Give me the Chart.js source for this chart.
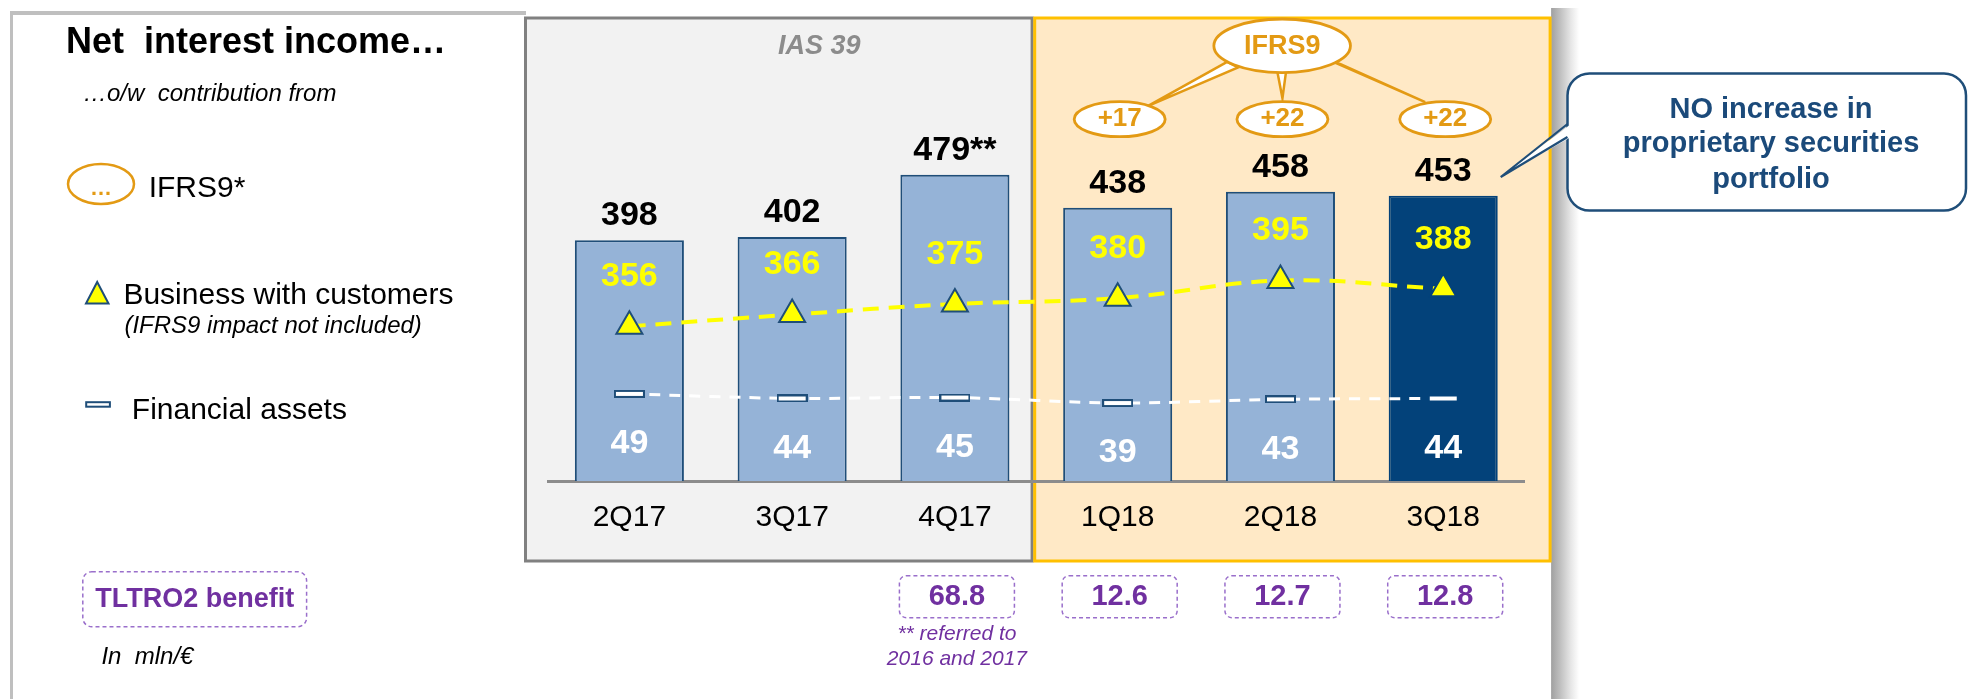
<!DOCTYPE html>
<html><head><meta charset="utf-8">
<script src="https://cdn.jsdelivr.net/npm/chart.js@4.4.1/dist/chart.umd.min.js"></script>
<style>html,body{margin:0;padding:0;background:#fff;overflow:hidden}canvas{display:block}</style>
</head><body>
<canvas id="c" width="1970" height="699"></canvas>
<script>
// ---- data ----
const categories = ['2Q17', '3Q17', '4Q17', '1Q18', '2Q18', '3Q18'];
const netInterestIncome = [398, 402, 479, 438, 458, 453];
const totalFootnoteMarks = ['', '', '**', '', '', ''];
const businessWithCustomers = [356, 366, 375, 380, 395, 388];
const financialAssets = [49, 44, 45, 39, 43, 44];
const ifrs9Contribution = [null, null, null, 17, 22, 22];
const tltro2Benefit = [null, null, 68.8, 12.6, 12.7, 12.8];

// ---- styles ----
const FONT = '"Liberation Sans", Arial, Helvetica, sans-serif';
const ORANGE = '#E39A14';
const NAVY = '#1F4E79';
const DARKBAR = '#03427A';
const LIGHTBAR = '#95B3D7';
const PURPLE = '#7030A0';
const PURPLE_LINE = '#9A6FCB';

function faMarker(border) {
  const c = document.createElement('canvas');
  c.width = 31; c.height = 8;
  const g = c.getContext('2d');
  g.fillStyle = border; g.fillRect(0, 0, 31, 8);
  g.fillStyle = '#FFFFFF'; g.fillRect(2, 2, 27, 4);
  return c;
}
const faLight = faMarker(NAVY), faDark = faMarker(DARKBAR);

function ellipse(ctx, x, y, rx, ry, fill, stroke, lw) {
  ctx.beginPath(); ctx.ellipse(x, y, rx, ry, 0, 0, Math.PI * 2);
  if (fill) { ctx.fillStyle = fill; ctx.fill(); }
  if (stroke) { ctx.strokeStyle = stroke; ctx.lineWidth = lw; ctx.stroke(); }
}
function txt(ctx, s, x, y, font, color, align, base) {
  ctx.font = font; ctx.fillStyle = color;
  ctx.textAlign = align || 'center'; ctx.textBaseline = base || 'middle';
  ctx.fillText(s, x, y);
}
function wedge(ctx, a, b, tip) {
  ctx.beginPath(); ctx.moveTo(a[0], a[1]); ctx.lineTo(tip[0], tip[1]); ctx.lineTo(b[0], b[1]); ctx.closePath();
  ctx.fillStyle = '#FFFFFF'; ctx.fill();
  ctx.strokeStyle = ORANGE; ctx.lineWidth = 2.5; ctx.lineJoin = 'miter'; ctx.stroke();
}

const backdrop = {
  id: 'backdrop',
  beforeDraw(chart) {
    const ctx = chart.ctx, ca = chart.chartArea, xs = chart.scales.x;
    const p = i => xs.getPixelForValue(i);
    const split = (p(2) + p(3)) / 2;
    const top = ca.top + 1, bot = ca.bottom + 80;
    ctx.save();
    // slide frame
    ctx.fillStyle = '#BFBFBF';
    ctx.fillRect(10, 11, 3, 700);
    ctx.fillRect(10, 11, 516, 4);
    const sx = xs.right + 26.5;
    const gr = ctx.createLinearGradient(sx, 0, sx + 28, 0);
    gr.addColorStop(0, '#A0A0A0'); gr.addColorStop(0.3, '#BDBDBD'); gr.addColorStop(0.7, '#E6E6E6'); gr.addColorStop(1, '#FFFFFF');
    ctx.fillStyle = gr; ctx.fillRect(sx, 8, 28, 700);
    // IAS 39 box
    const gL = xs.left - 22.5, gR = split - 4.2;
    ctx.fillStyle = '#F2F2F2'; ctx.fillRect(gL, top, gR - gL, bot - top);
    ctx.strokeStyle = '#808080'; ctx.lineWidth = 3; ctx.strokeRect(gL, top, gR - gL, bot - top);
    // IFRS9 box
    const oL = split - 1.6, oR = xs.right + 25.5;
    ctx.fillStyle = '#FFE9C6'; ctx.fillRect(oL, top, oR - oL, bot - top);
    ctx.strokeStyle = '#FFC000'; ctx.lineWidth = 3; ctx.strokeRect(oL, top, oR - oL, bot - top);
    ctx.restore();
  },
  afterDraw(chart) {
    const ctx = chart.ctx, xs = chart.scales.x;
    const p = i => xs.getPixelForValue(i);
    const bars = chart.getDatasetMeta(0).data;
    const tri = chart.getDatasetMeta(1).data;
    const fa = chart.getDatasetMeta(2).data;
    ctx.save();
    // IAS 39 header
    txt(ctx, 'IAS 39', p(1) + 27, 47, 'italic bold 27px ' + FONT, '#8C8C8C');
    // values
    bars.forEach((b, i) => {
      txt(ctx, netInterestIncome[i] + totalFootnoteMarks[i], b.x, b.y - 24.5, 'bold 34px ' + FONT, '#000000');
    });
    tri.forEach((t, i) => {
      txt(ctx, String(businessWithCustomers[i]), t.x, t.y - 49.5, 'bold 34px ' + FONT, '#FFFF00');
    });
    fa.forEach((f, i) => {
      txt(ctx, String(financialAssets[i]), f.x, f.y + 50, 'bold 34px ' + FONT, '#FFFFFF');
    });
    // IFRS9 group
    const idx = ifrs9Contribution.map((v, i) => v == null ? -1 : i).filter(i => i >= 0);
    const bx = p(idx[1]) + 1.7, by = 45.8;
    const smY = 119.2;
    const c0 = p(idx[0]), c1 = p(idx[1]), c2 = p(idx[2]);
    wedge(ctx, [bx - 55, by + 16], [bx - 44, by + 21.5], [c0 + 30, smY - 13]);
    wedge(ctx, [bx - 5, by + 25], [bx + 4, by + 25], [c1 + 2, smY - 21]);
    wedge(ctx, [bx + 50, by + 15.5], [bx + 59, by + 18.5], [c2 - 18, smY - 17]);
    ellipse(ctx, bx, by, 68.3, 26.8, '#FFFFFF', ORANGE, 2.8);
    txt(ctx, 'IFRS9', bx, by + 1, 'bold 27px ' + FONT, ORANGE);
    idx.forEach(i => {
      const cx = p(i) + 2;
      ellipse(ctx, cx, smY, 45.5, 17.5, '#FFFFFF', ORANGE, 2.8);
      txt(ctx, '+' + ifrs9Contribution[i], cx, smY, 'bold 26px ' + FONT, ORANGE);
    });
    // TLTRO2 boxes
    ctx.setLineDash([4, 3]);
    ctx.strokeStyle = PURPLE_LINE; ctx.lineWidth = 1.5;
    tltro2Benefit.forEach((v, i) => {
      if (v == null) return;
      const cx = p(i) + 2;
      ctx.beginPath(); ctx.roundRect(cx - 57.5, 575.7, 115, 42, 7); ctx.stroke();
      txt(ctx, v.toFixed(1), cx, 597, 'bold 29px ' + FONT, PURPLE);
    });
    ctx.beginPath(); ctx.roundRect(82.8, 571.7, 223.8, 55, 9); ctx.stroke();
    ctx.setLineDash([]);
    txt(ctx, 'TLTRO2 benefit', 194.7, 600, 'bold 27px ' + FONT, PURPLE);
    const fi = totalFootnoteMarks.findIndex(m => m);
    txt(ctx, '** referred to', p(fi) + 2, 634, 'italic 21px ' + FONT, PURPLE);
    txt(ctx, '2016 and 2017', p(fi) + 2, 659.5, 'italic 21px ' + FONT, PURPLE);
    txt(ctx, 'In  mln/\u20AC', 101.4, 664, 'italic 24px ' + FONT, '#000000', 'left', 'alphabetic');
    // left titles & legend
    txt(ctx, 'Net  interest income\u2026', 66, 52.7, 'bold 36px ' + FONT, '#000000', 'left', 'alphabetic');
    txt(ctx, '\u2026o/w  contribution from', 83, 101, 'italic 24px ' + FONT, '#000000', 'left', 'alphabetic');
    ellipse(ctx, 101, 184, 33, 20, '#FFFFFF', ORANGE, 2.5);
    txt(ctx, '\u2026', 101, 195, 'bold 22px ' + FONT, ORANGE, 'center', 'alphabetic');
    txt(ctx, 'IFRS9*', 148.7, 196.7, '30px ' + FONT, '#000000', 'left', 'alphabetic');
    ctx.beginPath(); ctx.moveTo(97.2, 282); ctx.lineTo(108.5, 303.5); ctx.lineTo(86, 303.5); ctx.closePath();
    ctx.fillStyle = '#FFFF00'; ctx.fill(); ctx.strokeStyle = NAVY; ctx.lineWidth = 2; ctx.lineJoin = 'miter'; ctx.stroke();
    txt(ctx, 'Business with customers', 123.4, 304, '30px ' + FONT, '#000000', 'left', 'alphabetic');
    txt(ctx, '(IFRS9 impact not included)', 124.4, 333, 'italic 24px ' + FONT, '#000000', 'left', 'alphabetic');
    ctx.fillStyle = NAVY; ctx.fillRect(85.2, 401.2, 25.7, 6.5);
    ctx.fillStyle = '#FFFFFF'; ctx.fillRect(87.2, 403.2, 21.7, 2.5);
    txt(ctx, 'Financial assets', 131.8, 419.3, '30px ' + FONT, '#000000', 'left', 'alphabetic');
    // callout
    const tip = [bars[5].x + bars[5].width / 2 + 3, 177];
    ctx.beginPath(); ctx.roundRect(1567.5, 73.5, 398.5, 137, 22);
    ctx.fillStyle = '#FFFFFF'; ctx.fill(); ctx.strokeStyle = NAVY; ctx.lineWidth = 2.5; ctx.stroke();
    ctx.beginPath(); ctx.moveTo(1571, 124); ctx.lineTo(tip[0], tip[1]); ctx.lineTo(1571, 137); ctx.closePath();
    ctx.fillStyle = '#FFFFFF'; ctx.fill();
    ctx.beginPath(); ctx.moveTo(1567.5, 124); ctx.lineTo(tip[0], tip[1]); ctx.lineTo(1567.5, 137);
    ctx.strokeStyle = NAVY; ctx.lineWidth = 2.2; ctx.stroke();
    ctx.fillStyle = '#FFFFFF'; ctx.fillRect(1569.5, 125.5, 4, 10);
    const cfont = 'bold 29px ' + FONT, ccol = '#1B4A7A';
    txt(ctx, 'NO increase in', 1771, 118.3, cfont, ccol, 'center', 'alphabetic');
    txt(ctx, 'proprietary securities', 1771, 152, cfont, ccol, 'center', 'alphabetic');
    txt(ctx, 'portfolio', 1771, 188.3, cfont, ccol, 'center', 'alphabetic');
    ctx.restore();
  }
};

new Chart(document.getElementById('c'), {
  type: 'bar',
  data: {
    labels: categories,
    datasets: [
      {
        label: 'Net interest income',
        data: netInterestIncome,
        yAxisID: 'y',
        order: 3,
        backgroundColor: netInterestIncome.map((v, i) => i === netInterestIncome.length - 1 ? DARKBAR : LIGHTBAR),
        borderColor: netInterestIncome.map((v, i) => i === netInterestIncome.length - 1 ? DARKBAR : NAVY),
        borderWidth: 2,
        borderSkipped: 'bottom',
        barPercentage: 0.67,
        categoryPercentage: 1
      },
      {
        type: 'line',
        label: 'Business with customers',
        data: businessWithCustomers,
        yAxisID: 'y2',
        order: 2,
        borderColor: '#FFFF00',
        borderWidth: 4,
        borderDash: [16, 10],
        tension: 0.4,
        pointStyle: 'triangle',
        pointRadius: 15,
        pointBackgroundColor: '#FFFF00',
        pointBorderColor: businessWithCustomers.map((v, i) => i === businessWithCustomers.length - 1 ? DARKBAR : NAVY),
        pointBorderWidth: 2
      },
      {
        type: 'line',
        label: 'Financial assets',
        data: financialAssets,
        yAxisID: 'y3',
        order: 1,
        borderColor: '#FFFFFF',
        borderWidth: 3,
        borderDash: [11, 9],
        tension: 0.3,
        pointStyle: financialAssets.map((v, i) => i === financialAssets.length - 1 ? faDark : faLight),
        pointRadius: 10
      }
    ]
  },
  options: {
    responsive: false,
    devicePixelRatio: 1,
    animation: false,
    events: [],
    layout: { padding: { left: 548, right: 445.4, top: 13, bottom: 158 } },
    plugins: { legend: { display: false }, tooltip: { enabled: false } },
    scales: {
      x: {
        z: 1,
        grid: { display: false, drawTicks: false },
        border: { display: true, color: '#8C8C8C', width: 3 },
        ticks: { color: '#000000', font: { family: FONT, size: 30 }, padding: 19 },
        afterFit(s) { s.height = 60; }
      },
      y: { display: false, min: 100, max: 674.2 },
      y2: { display: false, min: 224, max: 619.9 },
      y3: { display: false, min: -46.5, max: 462.2 }
    }
  },
  plugins: [backdrop]
});
</script>
</body></html>
